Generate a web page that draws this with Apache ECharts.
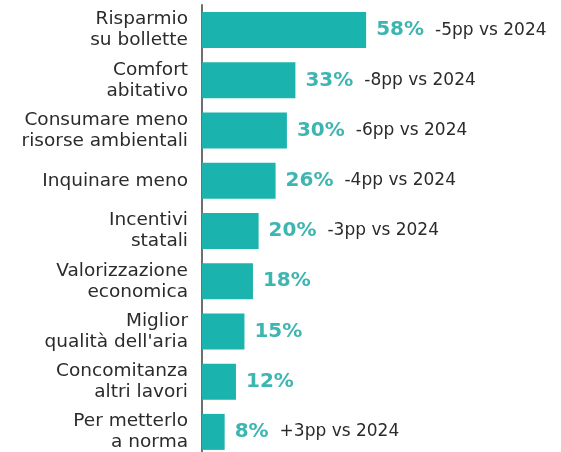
<!DOCTYPE html>
<html>
<head>
<meta charset="utf-8">
<script src="https://cdn.jsdelivr.net/npm/echarts@6/dist/echarts.min.js"></script>
<style>
html,body{margin:0;padding:0;background:#fff;}
#chart{width:561px;height:452px;}
</style>
</head>
<body>
<div id="chart"></div>
<script>
const categories = [
  'Risparmio\nsu bollette',
  'Comfort\nabitativo',
  'Consumare meno\nrisorse ambientali',
  'Inquinare meno',
  'Incentivi\nstatali',
  'Valorizzazione\neconomica',
  'Miglior\nqualità dell\'aria',
  'Concomitanza\naltri lavori',
  'Per metterlo\na norma'
];
const values = [58, 33, 30, 26, 20, 18, 15, 12, 8];
const deltas = ['-5pp vs 2024', '-8pp vs 2024', '-6pp vs 2024', '-4pp vs 2024', '-3pp vs 2024', '', '', '', '+3pp vs 2024'];

const chart = echarts.init(document.getElementById('chart'));
chart.setOption({
  backgroundColor: '#ffffff',
  animation: false,
  grid: { left: 202, width: 283, top: 5, height: 452, outerBoundsMode: 'none' },
  xAxis: { type: 'value', min: 0, max: 100, show: false },
  yAxis: {
    type: 'category',
    data: categories,
    inverse: true,
    axisLine: { show: true, lineStyle: { color: '#6f6f6f', width: 2 } },
    axisTick: { show: false },
    splitLine: { show: false },
    axisLabel: {
      color: '#2b2b2b',
      fontFamily: 'DejaVu Sans',
      fontSize: 18.5,
      lineHeight: 21,
      margin: 14,
      align: 'right'
    }
  },
  series: [{
    type: 'bar',
    data: values,
    barWidth: 36,
    itemStyle: { color: '#1ab3ae' },
    label: {
      show: true,
      position: 'right',
      distance: 10,
      formatter: function (p) {
        const d = deltas[p.dataIndex];
        return '{v|' + p.value + '%}' + (d ? '{d|' + d + '}' : '');
      },
      rich: {
        v: { color: '#3db5b1', fontFamily: 'DejaVu Sans', fontSize: 20, fontWeight: 'bold' },
        d: { color: '#2b2b2b', fontFamily: 'DejaVu Sans', fontSize: 17, padding: [0, 0, 0, 11] }
      }
    }
  }]
});
</script>
</body>
</html>
